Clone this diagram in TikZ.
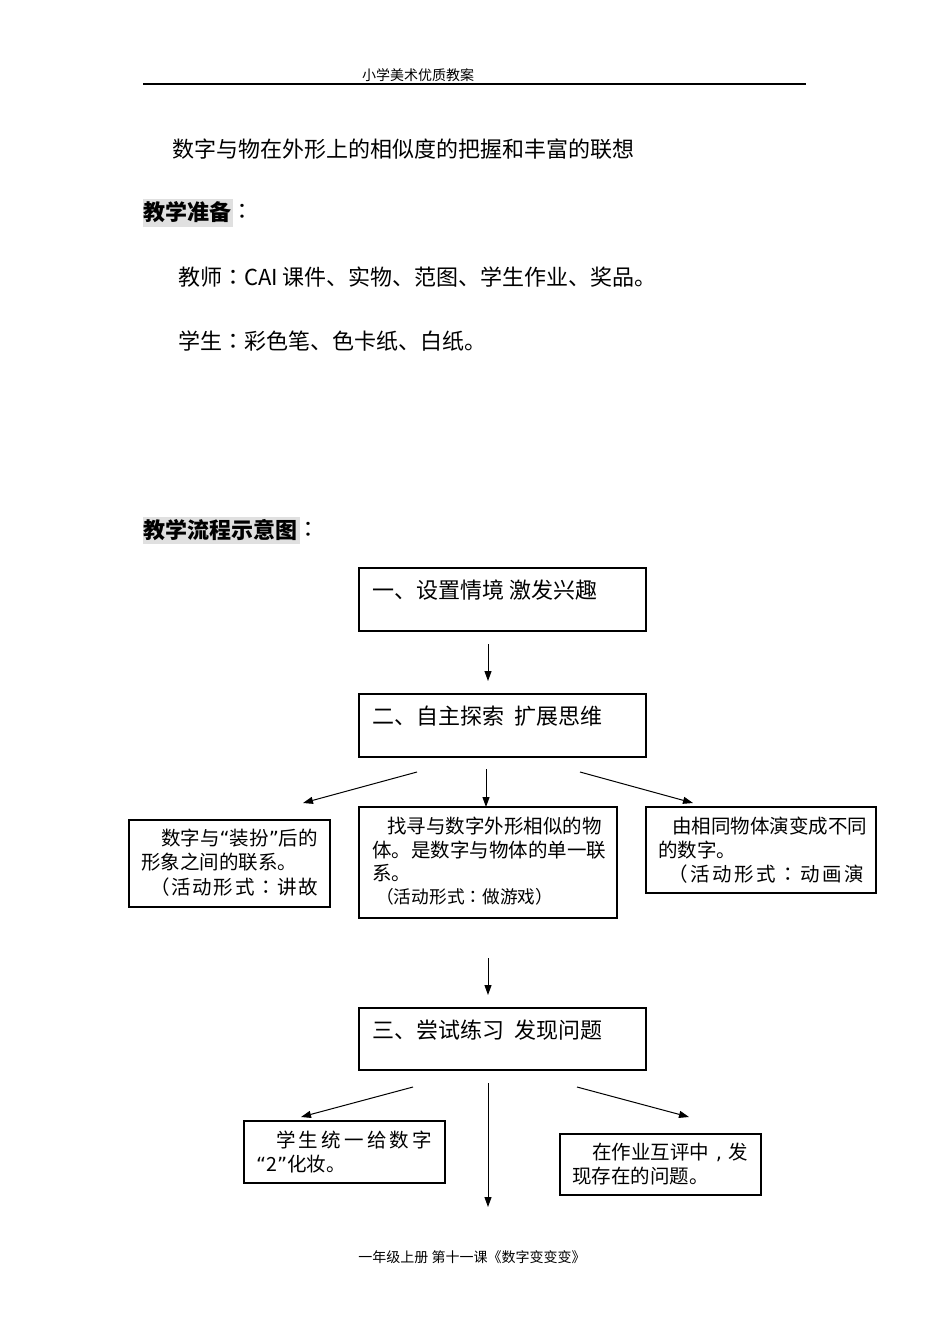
\documentclass[tikz,border=0pt]{standalone}
\usepackage{fontspec}
\setmainfont{Noto Sans CJK SC}
\newfontfamily\tcfont{Noto Sans CJK TC}
\newfontfamily\latf{DejaVu Sans}
\newcommand{\cc}{{\tcfont ：}}
\newcommand{\cm}{\makebox[1em][c]{\latf ,}}
\newcommand{\myoq}{{\latf “}}
\newcommand{\mycq}{{\latf ”}}
\usetikzlibrary{arrows.meta}
\definecolor{hl}{RGB}{224,224,224}
\begin{document}
\begin{tikzpicture}[x=1pt,y=-1pt,
  txt/.style={anchor=west,inner sep=0pt,font=\fontsize{22}{26}\selectfont},
  btxt/.style={anchor=west,inner sep=0pt,font=\fontsize{22}{26}\selectfont\bfseries},
  sm/.style={anchor=west,inner sep=0pt,font=\fontsize{19.5}{23}\selectfont},
  smr/.style={anchor=west,inner sep=0pt,font=\fontsize{17.7}{21}\selectfont},
  hdr/.style={anchor=center,inner sep=0pt,font=\fontsize{14}{16}\selectfont},
  bigbox/.style={draw,line width=2.4pt,anchor=north west,inner sep=0pt,outer sep=0pt},
  smallbox/.style={draw,line width=1.3pt,anchor=north west,inner sep=0pt,outer sep=0pt},
  arr/.style={-{Triangle[length=10pt,width=7pt]},line width=1pt}]
\useasboundingbox (0,0) rectangle (950,1344);
\fill[white] (0,0) rectangle (950,1344);

% header / footer
\node[hdr] (hd) at (418,75) {小学美术优质教案};
\draw[line width=1.2pt] (143,84) -- (806,84);
\node[hdr] (ft) at (472,1257) {一年级上册 第十一课《数字变变变》};

% top text
\node[txt] (l1) at (172,149) {数字与物在外形上的相似度的把握和丰富的联想};
\fill[hl] (143,199) rectangle (233,227);
\node[btxt] (l2) at (143,212) {教学准备};
\node[txt] (l2c) at (l2.east) [anchor=west] {\cc};
\node[txt] (l3) at (178,277) {教师\cc CAI 课件、实物、范图、学生作业、奖品。};
\node[txt] (l4) at (178,341) {学生\cc 彩色笔、色卡纸、白纸。};
\fill[hl] (143,517) rectangle (300,544);
\node[btxt] (l5) at (143,530) {教学流程示意图};
\node[txt] (l5c) at (l5.east) [anchor=west] {\cc};

% main boxes
\node[bigbox,minimum width=287pt,minimum height=63pt] (b1) at (359,568) {};
\node[txt] (t1) at ([shift={(13,22)}]b1.north west) {一、设置情境 激发兴趣};
\node[bigbox,minimum width=287pt,minimum height=63pt] (b2) at (359,694) {};
\node[txt] (t2) at ([shift={(13,22)}]b2.north west) {二、自主探索\ \ 扩展思维};
\node[bigbox,minimum width=287pt,minimum height=62pt] (b3) at (359,1008) {};
\node[txt] (t3) at ([shift={(13,22)}]b3.north west) {三、尝试练习\ \ 发现问题};

% second-level boxes
\node[smallbox,minimum width=201pt,minimum height=87pt] (sl) at (129,820) {};
\node[sm] (sl1) at (161,838) {数字与\myoq 装扮\mycq 后的};
\node[sm] (sl2) at (141,862) {形象之间的联系。};
\node[sm] (sl3) at (150,887) {\makebox[168pt][s]{（\hfill 活\hfill 动\hfill 形\hfill 式\hfill \cc\hfill 讲\hfill 故}};

\node[smallbox,minimum width=258pt,minimum height=111pt] (sm) at (359,807) {};
\node[sm] (sm1) at (387,826) {找寻与数字外形相似的物};
\node[sm] (sm2) at (372,850) {体。是数字与物体的单一联};
\node[sm] (sm3) at (372,873) {系。};
\node[smr] (sm4) at (376,897) {（活动形式\cc 做游戏）};

\node[smallbox,minimum width=230pt,minimum height=86pt] (sr) at (646,807) {};
\node[sm] (sr1) at (672,826) {由相同物体演变成不同};
\node[sm] (sr2) at (658,850) {的数字。};
\node[sm] (sr3) at (668,874) {\makebox[196pt][s]{（\hfill 活\hfill 动\hfill 形\hfill 式\hfill \cc\hfill 动\hfill 画\hfill 演}};

% third-level boxes
\node[smallbox,minimum width=201pt,minimum height=62pt] (tl) at (244,1121) {};
\node[sm] (tl1) at (276,1140) {\makebox[156pt][s]{学\hfill 生\hfill 统\hfill 一\hfill 给\hfill 数\hfill 字}};
\node[sm] (tl2) at (256,1164) {\myoq 2\mycq 化妆。};

\node[smallbox,minimum width=201pt,minimum height=61pt] (tr) at (560,1134) {};
\node[sm] (tr1) at (592,1152) {在作业互评中\cm 发};
\node[sm] (tr2) at (572,1176) {现存在的问题。};

% arrow end points
\coordinate (a1s) at (488,644);  \coordinate (a1e) at (488,681);
\coordinate (a2s) at (417,772);  \coordinate (a2e) at (303,803);
\coordinate (a3s) at (486,769);  \coordinate (a3e) at (486,807);
\coordinate (a4s) at (580,772);  \coordinate (a4e) at (693,803);
\coordinate (a5s) at (488,958);  \coordinate (a5e) at (488,995);
\coordinate (a6s) at (413,1087); \coordinate (a6e) at (301,1117);
\coordinate (a7s) at (488,1083); \coordinate (a7e) at (488,1207);
\coordinate (a8s) at (577,1087); \coordinate (a8e) at (689,1117);

\draw[arr] (a1s) -- (a1e);
\draw[arr] (a2s) -- (a2e);
\draw[arr] (a3s) -- (a3e);
\draw[arr] (a4s) -- (a4e);
\draw[arr] (a5s) -- (a5e);
\draw[arr] (a6s) -- (a6e);
\draw[arr] (a7s) -- (a7e);
\draw[arr] (a8s) -- (a8e);
\end{tikzpicture}
\end{document}
